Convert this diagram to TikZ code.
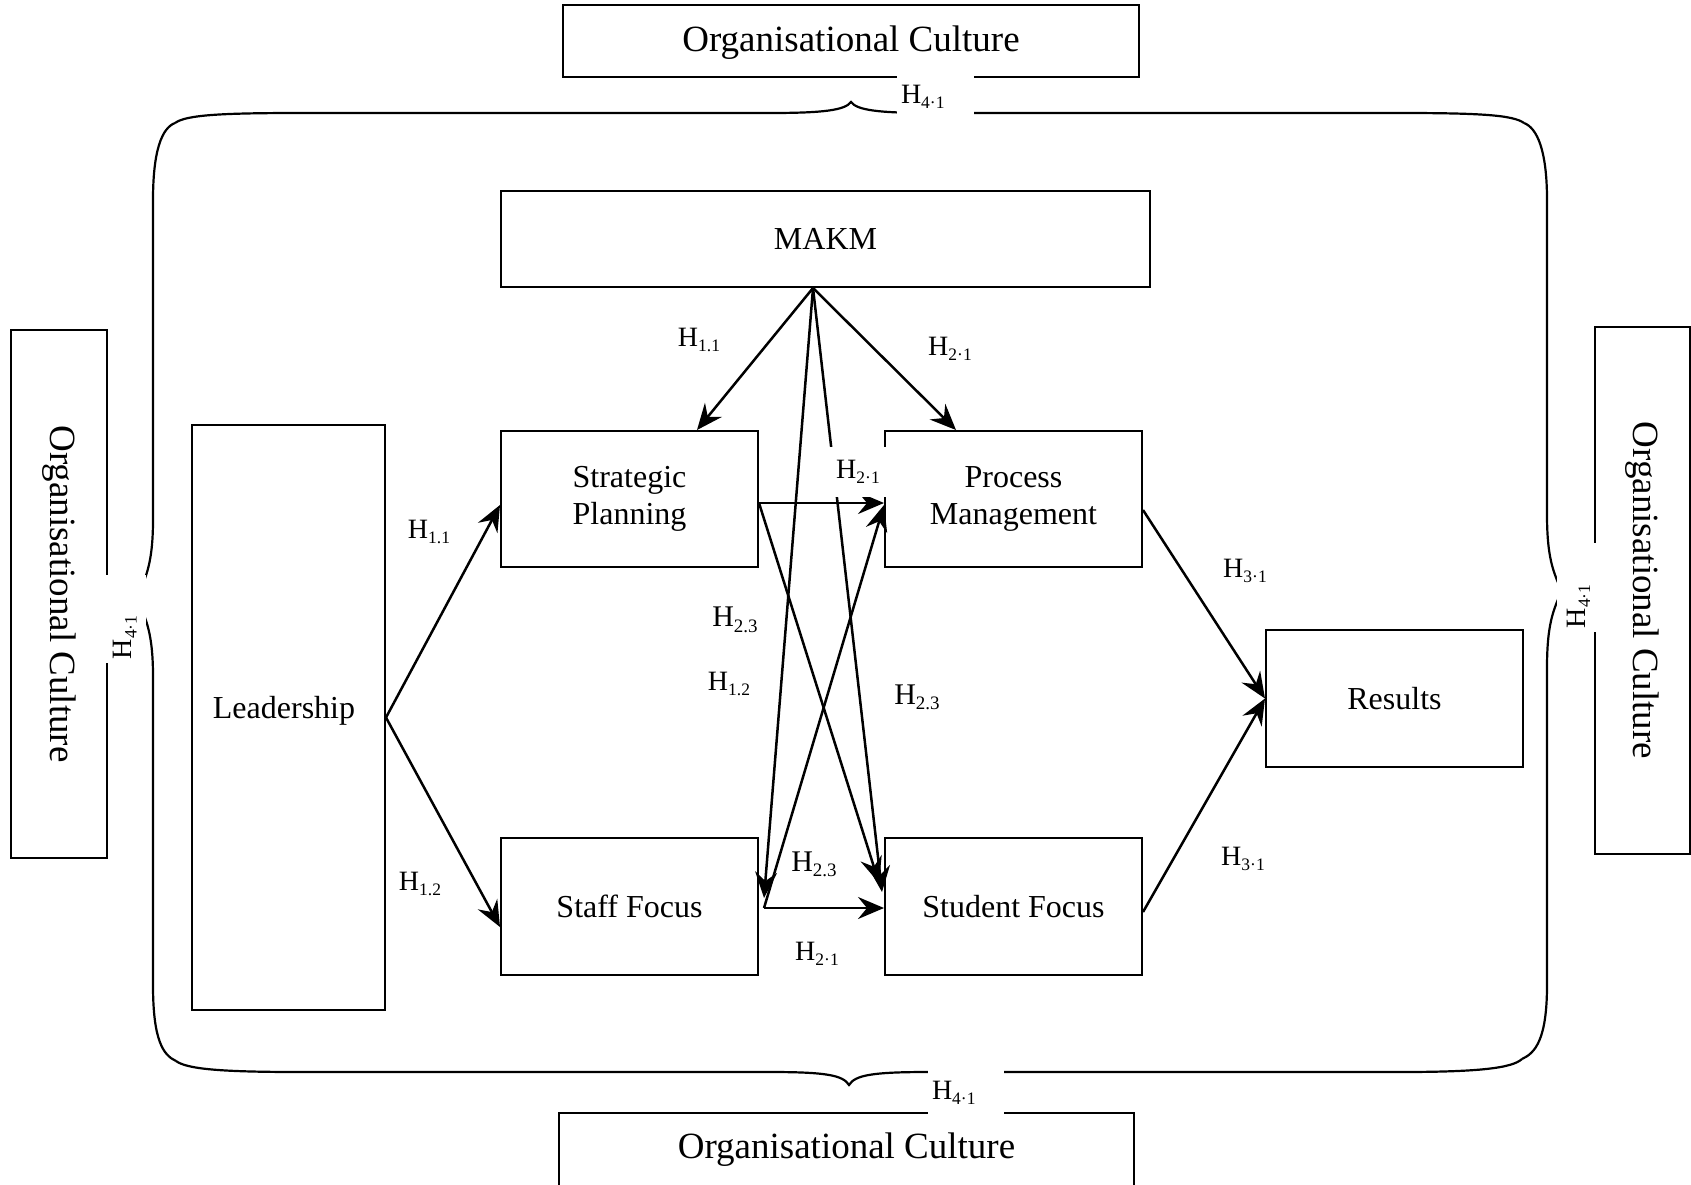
\documentclass[tikz,border=0pt]{standalone}
\usepackage{fontspec}
\setmainfont{Liberation Serif}
\usetikzlibrary{arrows.meta}

\newcommand\orgfont{\fontsize{37}{44}\selectfont}
\newcommand\boxfont{\fontsize{32}{37}\selectfont}
% hypothesis label: H with a lowered index
\newcommand\hyp[3]{{\fontsize{#1}{#1}\selectfont H\raisebox{-0.18em}{\fontsize{#2}{#2}\selectfont #3}}}

\begin{document}
\begin{tikzpicture}[x=1pt,y=-1pt,
  box/.style={draw, line width=2pt, rectangle, inner sep=0pt, font=\boxfont, align=center},
  arr/.style={line width=2.5pt, -{Stealth[length=26pt, width=22pt, inset=9pt]}},
  bracepath/.style={line width=2.2pt},
  hlab/.style={inner sep=0pt},
  cut/.style={fill=white, inner ysep=0pt, inner xsep=4pt, align=left}
]
\useasboundingbox[fill=white] (0,0) rectangle (1691,1184);

% curly braces enclosing the model
\draw[bracepath] (175,123) .. controls (186,115) and (220,113) .. (300,113) -- (770,113)
  .. controls (825,113) and (845,110) .. (851,102) .. controls (857,110) and (877,113) .. (932,113)
  -- (1400,113) .. controls (1480,113) and (1513,115) .. (1524,123);
\draw[bracepath] (175,123) .. controls (162,128) and (153,150) .. (153,200) -- (153,520)
  .. controls (153,570) and (143,580) .. (138,598) .. controls (143,616) and (153,626) .. (153,676)
  -- (153,985) .. controls (153,1040) and (163,1055) .. (176,1061);
\draw[bracepath] (1524,123) .. controls (1537,128) and (1547,150) .. (1547,200) -- (1547,515)
  .. controls (1547,565) and (1556,575) .. (1561,591) .. controls (1556,607) and (1547,617) .. (1547,667)
  -- (1547,985) .. controls (1547,1040) and (1535,1053) .. (1522,1059);
\draw[bracepath] (176,1061) .. controls (187,1069) and (220,1072) .. (300,1072) -- (770,1072)
  .. controls (825,1072) and (843,1075) .. (849,1085) .. controls (855,1075) and (873,1072) .. (928,1072)
  -- (1400,1072) .. controls (1480,1072) and (1512,1068) .. (1522,1059);

% culture boxes on the four sides
\node[box, minimum width=576pt, minimum height=72pt] (orgT) at (851,41) {};
\node[font=\orgfont, inner sep=0pt] (orgTtext) at (851,43) {Organisational Culture};
\node[box, minimum width=575pt, minimum height=80pt] (orgB) at (846.5,1153) {};
\node[font=\orgfont, inner sep=0pt] (orgBtext) at (846.5,1150) {Organisational Culture};
\node[box, font=\orgfont, rotate=-90, minimum width=528pt, minimum height=96pt] (orgL) at (59,594) {Organisational Culture};
\node[box, font=\orgfont, rotate=-90, minimum width=527pt, minimum height=95pt] (orgR) at (1642.5,590.5) {Organisational Culture};

% model constructs
\node[box, minimum width=649pt, minimum height=96pt] (makm) at (825.5,239) {MAKM};
\node[box, minimum width=193pt, minimum height=585pt] (lead) at (288.5,717.5) {};
\node[font=\boxfont, inner sep=0pt] (leadtext) at (284,711) {Leadership};
\node[box, minimum width=257pt, minimum height=136pt] (sp) at (629.5,499) {Strategic\\Planning};
\node[box, minimum width=257pt, minimum height=136pt] (pm) at (1013.5,499) {Process\\Management};
\node[box, minimum width=257pt, minimum height=137pt] (staff) at (629.5,906.5) {Staff Focus};
\node[box, minimum width=257pt, minimum height=137pt] (student) at (1013.5,906.5) {Student Focus};
\node[box, minimum width=257pt, minimum height=137pt] (res) at (1394.5,698.5) {Results};

% connector end points
\coordinate (ms) at ([xshift=-12.5pt]makm.south);
\coordinate (spo) at ([yshift=-4pt]sp.east);
\coordinate (sfo) at ([xshift=5pt,yshift=-1.5pt]staff.east);

% MAKM paths
\draw[arr] (ms) -- ([xshift=67.5pt]sp.north);
\draw[arr] (ms) -- ([xshift=-57.5pt]pm.north);
\draw[arr] (ms) -- ([xshift=5pt,yshift=8.5pt]staff.east);
\draw[arr] (ms) -- ([xshift=-2pt,yshift=-55pt]student.north west);

% paths between the middle constructs
\draw[arr] (spo) -- ([yshift=-4pt]pm.west);
\draw[arr] (spo) -- ([xshift=-5pt,yshift=-46pt]student.north west);
\draw[arr] (sfo) -- ([yshift=-6pt]pm.west);
\draw[arr] (sfo) -- ([yshift=-1.5pt]student.west);

% leadership paths
\draw[arr] (lead.east) -- ([yshift=-6pt]sp.west);
\draw[arr] (lead.east) -- ([yshift=-20.5pt]staff.west);

% paths to results
\draw[arr] ([yshift=-11pt]pm.east) -- (res.west);
\draw[arr] ([yshift=-5.5pt]student.east) -- (res.west);

% hypothesis labels
\node[hlab] (h11a) at (699,340) {\hyp{28}{17.5}{1.1}};
\node[hlab] (h21a) at (950,349) {\hyp{28}{17.5}{2·1}};
\node[fill=white, inner sep=0pt, minimum width=64pt, minimum height=50pt] (h21b) at (858,472) {\hyp{28}{17.5}{2·1}};
\node[hlab] (h23a) at (735,620) {\hyp{30}{19}{2.3}};
\node[hlab] (h12a) at (729,684) {\hyp{28}{17.5}{1.2}};
\node[hlab] (h23b) at (917,697) {\hyp{30}{19}{2.3}};
\node[hlab] (h23c) at (814,864) {\hyp{30}{19}{2.3}};
\node[hlab] (h21c) at (817,954) {\hyp{28}{17.5}{2·1}};
\node[hlab] (h11b) at (429,532) {\hyp{28}{17.5}{1.1}};
\node[hlab] (h12b) at (420,884) {\hyp{28}{17.5}{1.2}};
\node[hlab] (h31a) at (1245,571) {\hyp{28}{17.5}{3·1}};
\node[hlab] (h31b) at (1243,859) {\hyp{28}{17.5}{3·1}};

% culture labels breaking the braces
\node[cut, text width=69pt, minimum height=44pt] (h41t) at (935.5,97) {\hyp{28}{17.5}{4·1}};
\node[cut, text width=68pt, minimum height=52pt] (h41b) at (966,1093) {\hyp{28}{17.5}{4·1}};
\node[cut, rotate=90, text width=80pt, minimum height=42pt] (h41l) at (125,619) {\hyp{28}{17.5}{4·1}};
\node[cut, rotate=90, text width=81pt, minimum height=43pt] (h41r) at (1578.5,587.5) {\hyp{28}{17.5}{4·1}};
\end{tikzpicture}
\end{document}
